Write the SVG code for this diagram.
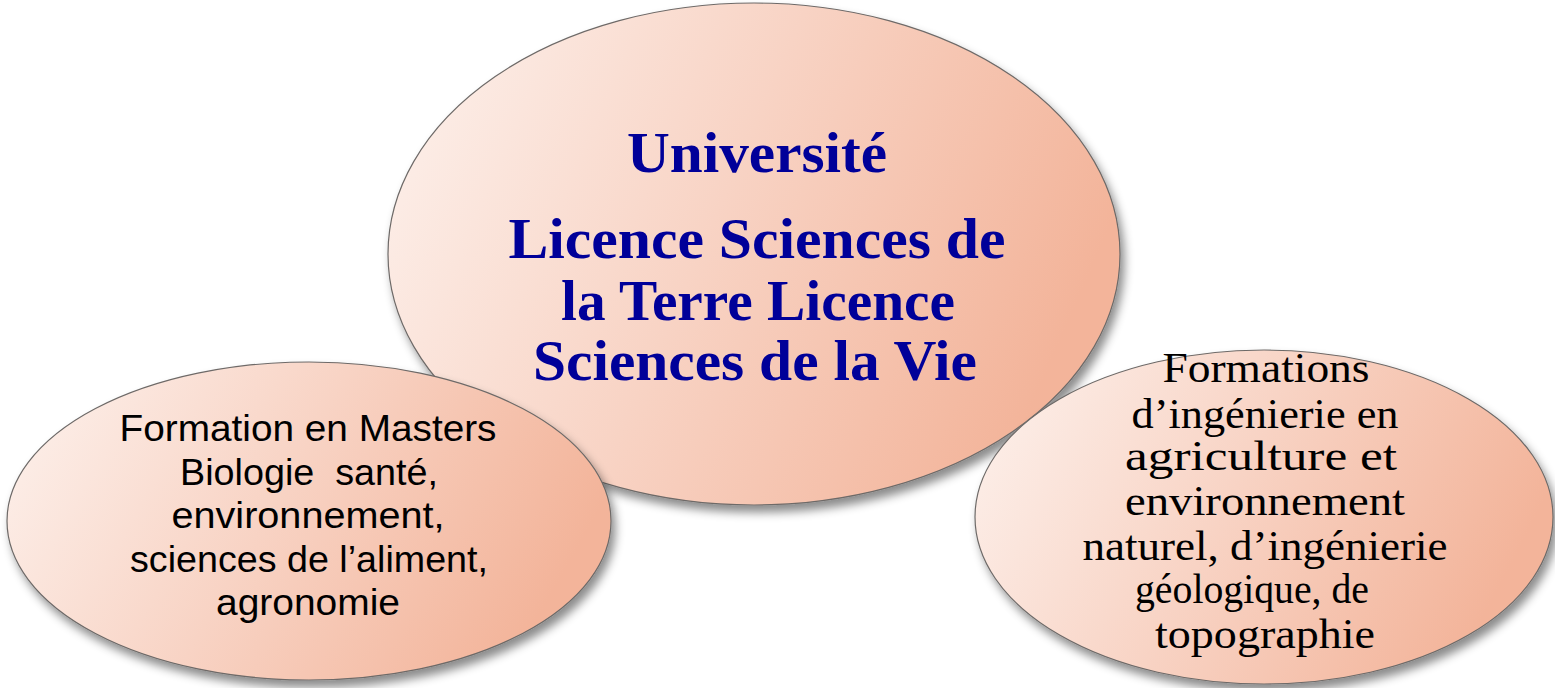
<svg xmlns="http://www.w3.org/2000/svg" width="1555" height="688" viewBox="0 0 1555 688">
<style>
.bubble{fill:url(#peach);stroke:#6e6a68;stroke-width:1.2;filter:url(#shadow)}
.main{font-family:"Liberation Serif","DejaVu Serif",serif;font-weight:bold;font-size:56px;fill:#000099;text-anchor:middle}
.left{font-family:"Liberation Sans","DejaVu Sans",sans-serif;font-size:36px;fill:#000;text-anchor:middle}
.right{font-family:"Liberation Serif","DejaVu Serif",serif;font-size:42px;fill:#000;text-anchor:middle}
</style>
<defs>
<linearGradient id="peach" x1="0" y1="0.1" x2="1" y2="0.4">
<stop offset="0" stop-color="#fdf1ec"/>
<stop offset="0.5" stop-color="#f8d3c4"/>
<stop offset="1" stop-color="#f3b49a"/>
</linearGradient>
<filter id="shadow" x="-10%" y="-10%" width="125%" height="130%">
<feDropShadow dx="4" dy="7" stdDeviation="5" flood-color="#000" flood-opacity="0.45"/>
</filter>
</defs>
<g id="node-universite">
<ellipse class="bubble" cx="754" cy="254" rx="366" ry="251"/>
<text class="main" x="757" y="172" textLength="260" lengthAdjust="spacingAndGlyphs">Université</text>
<text class="main" x="757" y="258" textLength="497" lengthAdjust="spacingAndGlyphs">Licence Sciences de</text>
<text class="main" x="758" y="320" textLength="394" lengthAdjust="spacingAndGlyphs">la Terre Licence</text>
<text class="main" x="755" y="380" textLength="444" lengthAdjust="spacingAndGlyphs">Sciences de la Vie</text>
</g>
<g id="node-masters">
<ellipse class="bubble" cx="309" cy="521" rx="302" ry="159"/>
<text class="left" x="308" y="441" textLength="377" lengthAdjust="spacingAndGlyphs">Formation en Masters</text>
<text class="left" x="309" y="485" textLength="258" lengthAdjust="spacingAndGlyphs" xml:space="preserve">Biologie  santé,</text>
<text class="left" x="308" y="528" textLength="273" lengthAdjust="spacingAndGlyphs">environnement,</text>
<text class="left" x="309" y="572" textLength="358" lengthAdjust="spacingAndGlyphs">sciences de l’aliment,</text>
<text class="left" x="308" y="615" textLength="184" lengthAdjust="spacingAndGlyphs">agronomie</text>
</g>
<g id="node-ingenierie">
<ellipse class="bubble" cx="1264" cy="517" rx="289" ry="167"/>
<text class="right" x="1266" y="382" textLength="207" lengthAdjust="spacingAndGlyphs">Formations</text>
<text class="right" x="1265" y="428" textLength="267" lengthAdjust="spacingAndGlyphs">d’ingénierie en</text>
<text class="right" x="1261" y="470" textLength="272" lengthAdjust="spacingAndGlyphs">agriculture et</text>
<text class="right" x="1265" y="515" textLength="280" lengthAdjust="spacingAndGlyphs">environnement</text>
<text class="right" x="1265" y="560" textLength="365" lengthAdjust="spacingAndGlyphs">naturel, d’ingénierie</text>
<text class="right" x="1252" y="603" textLength="234" lengthAdjust="spacingAndGlyphs">géologique, de</text>
<text class="right" x="1265" y="648" textLength="220" lengthAdjust="spacingAndGlyphs">topographie</text>
</g>
<g id="connectors"></g>
</svg>
